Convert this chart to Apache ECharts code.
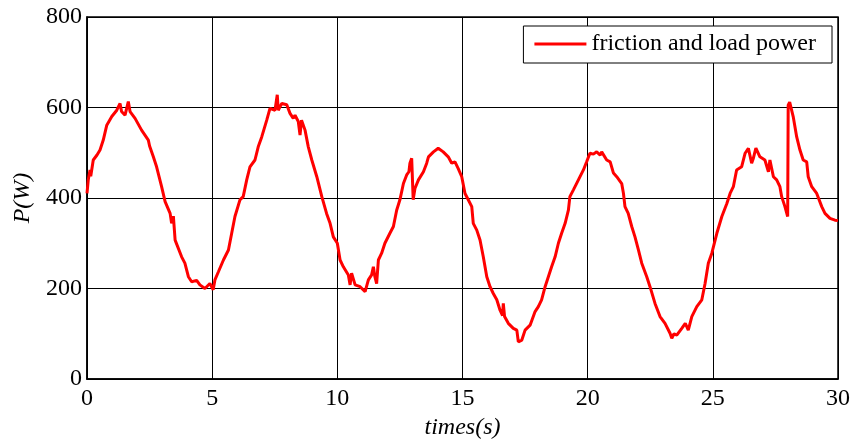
<!DOCTYPE html>
<html>
<head>
<meta charset="utf-8">
<script src="https://cdn.jsdelivr.net/npm/echarts@6/dist/echarts.min.js"></script>
<style>
  html, body { margin: 0; padding: 0; background: #fff; }
  #chart { width: 856px; height: 445px; }
</style>
</head>
<body>
<div id="chart"></div>
<script>
// Sampled friction and load power, time in seconds
const timeS = [
  0, 0.05, 0.12, 0.15, 0.25, 0.4, 0.52, 0.65, 0.79, 0.99,
  1.19, 1.32, 1.38, 1.52, 1.65, 1.72, 1.92, 2.18, 2.45, 2.5,
  2.65, 2.78, 2.98, 3.12, 3.32, 3.38, 3.45, 3.52, 3.78, 3.91,
  4.05, 4.18, 4.38, 4.51, 4.71, 4.91, 5.04,
  5.11, 5.25, 5.45, 5.65, 5.78, 5.91, 6.11, 6.24, 6.38, 6.51,
  6.71, 6.84, 6.98, 7.18, 7.31, 7.38, 7.51, 7.6, 7.64, 7.78,
  7.98, 8.11, 8.24, 8.31, 8.44, 8.51, 8.57, 8.71, 8.84, 8.98,
  9.18, 9.38, 9.57, 9.71, 9.84, 10.0,
  10.11, 10.24, 10.44, 10.51, 10.57, 10.71, 10.91, 11.11, 11.24, 11.37,
  11.44, 11.5, 11.57, 11.64, 11.77, 11.9, 12.1, 12.24, 12.37, 12.5,
  12.64, 12.77, 12.86, 12.9, 12.97, 13.03, 13.1, 13.24, 13.44, 13.57,
  13.64, 13.84, 14.03, 14.23, 14.43, 14.57, 14.7, 14.83, 14.97,
  15.1, 15.23, 15.37, 15.43, 15.57, 15.7, 15.83, 15.97, 16.1, 16.23,
  16.37, 16.5, 16.6, 16.63, 16.68, 16.83, 17.03, 17.17, 17.23, 17.37,
  17.5, 17.7, 17.9, 18.03, 18.16, 18.3, 18.43, 18.56, 18.7, 18.83,
  18.96, 19.1, 19.23, 19.29, 19.43, 19.63, 19.83, 19.96,
  20.09, 20.23, 20.36, 20.5, 20.56, 20.76, 20.9, 21.03, 21.16, 21.36,
  21.43, 21.49, 21.62, 21.76, 21.89, 22.03, 22.16, 22.36, 22.49, 22.69,
  22.89, 23.09, 23.29, 23.36, 23.45, 23.56, 23.76, 23.9, 24.02, 24.16,
  24.36, 24.56, 24.69, 24.82, 24.96,
  25.16, 25.36, 25.56, 25.69, 25.82, 25.95, 26.15, 26.29, 26.42, 26.55,
  26.62, 26.72, 26.88, 27.08, 27.22, 27.28, 27.42, 27.55, 27.68, 27.75,
  27.88, 27.99, 28.01, 28.07, 28.21, 28.35, 28.48, 28.61, 28.75, 28.81,
  28.95, 29.15, 29.35, 29.48, 29.68, 29.88, 30
];
const powerW = [
  410, 440, 462, 448, 484, 495, 506, 528, 561, 580,
  594, 609, 591, 583, 613, 591, 576, 550, 528, 515,
  491, 469, 425, 392, 366, 344, 360, 307, 270, 256,
  226, 215, 218, 208, 200, 211, 197,
  219, 237, 263, 285, 322, 359, 396, 403, 440, 469,
  484, 513, 535, 572, 598, 600, 594, 628, 594, 609,
  606, 587, 576, 583, 569, 539, 572, 550, 513, 484,
  447, 403, 366, 344, 314, 300,
  263, 248, 230, 208, 234, 208, 204, 193, 219, 230,
  248, 226, 211, 263, 278, 300, 322, 337, 373, 396,
  432, 451, 458, 477, 488, 396, 421, 440, 458, 477,
  491, 502, 510, 502, 491, 477, 480, 465, 447,
  410, 396, 381, 344, 329, 307, 270, 226, 204, 189,
  175, 152, 140, 167, 138, 123, 112, 108, 82, 86,
  108, 119, 149, 160, 175, 204, 226, 248, 270, 300,
  322, 344, 373, 403, 418, 440, 462, 480,
  499, 497, 502, 495, 502, 484, 480, 455, 447, 432,
  410, 381, 366, 337, 314, 285, 256, 226, 204, 167,
  138, 123, 101, 90, 100, 97, 112, 123, 108, 138,
  160, 175, 211, 256, 278,
  322, 359, 388, 410, 425, 462, 469, 499, 510, 477,
  488, 510, 491, 484, 458, 484, 447, 440, 425, 403,
  381, 359, 605, 612, 580, 535, 506, 484, 480, 447,
  425, 410, 381, 366, 355, 351, 350
];
const seriesName = 'friction and load power';
const xTicks = { min: 0, max: 30, step: 5 };
const yTicks = { min: 0, max: 800, step: 200 };

const points = timeS.map((t, i) => [t, powerW[i]]);
const serif = 'Liberation Serif';
const fontPx = 24;

const chart = echarts.init(document.getElementById('chart'), null, { renderer: 'canvas' });
chart.setOption({
  animation: false,
  backgroundColor: '#fff',
  grid: {
    left: 87, right: 18, top: 17, bottom: 66,
    show: true, borderColor: '#000', borderWidth: 1.5, backgroundColor: 'transparent'
  },
  legend: {
    right: 24, top: 26,
    padding: [6, 16, 7, 11],
    backgroundColor: '#fff',
    borderColor: '#000', borderWidth: 1, borderRadius: 0,
    icon: 'rect', itemWidth: 52, itemHeight: 3,
    textStyle: { fontFamily: serif, fontSize: fontPx, color: '#000' },
    data: [seriesName]
  },
  xAxis: {
    type: 'value', min: xTicks.min, max: xTicks.max, interval: xTicks.step,
    name: 'times(s)', nameLocation: 'middle', nameGap: 35,
    nameTextStyle: { fontFamily: serif, fontSize: fontPx, fontStyle: 'italic', color: '#000' },
    axisLine: { show: true, lineStyle: { color: '#000', width: 1.5 } },
    axisTick: { show: true, inside: true, length: 5, lineStyle: { color: '#000' } },
    axisLabel: { fontFamily: serif, fontSize: fontPx, color: '#000', margin: 8 },
    splitLine: { show: true, lineStyle: { color: '#000', width: 1 } }
  },
  yAxis: {
    type: 'value', min: yTicks.min, max: yTicks.max, interval: yTicks.step,
    name: 'P(W)', nameLocation: 'middle', nameGap: 50, nameRotate: 90,
    nameTextStyle: { fontFamily: serif, fontSize: fontPx, fontStyle: 'italic', color: '#000' },
    axisLine: { show: true, lineStyle: { color: '#000', width: 1.5 } },
    axisTick: { show: true, inside: true, length: 5, lineStyle: { color: '#000' } },
    axisLabel: { fontFamily: serif, fontSize: fontPx, color: '#000', margin: 5 },
    splitLine: { show: true, lineStyle: { color: '#000', width: 1 } }
  },
  series: [{
    name: seriesName,
    type: 'line',
    data: points,
    showSymbol: false,
    symbol: 'none',
    lineStyle: { color: '#ff0000', width: 3 },
    itemStyle: { color: '#ff0000' }
  }]
});
</script>
</body>
</html>
